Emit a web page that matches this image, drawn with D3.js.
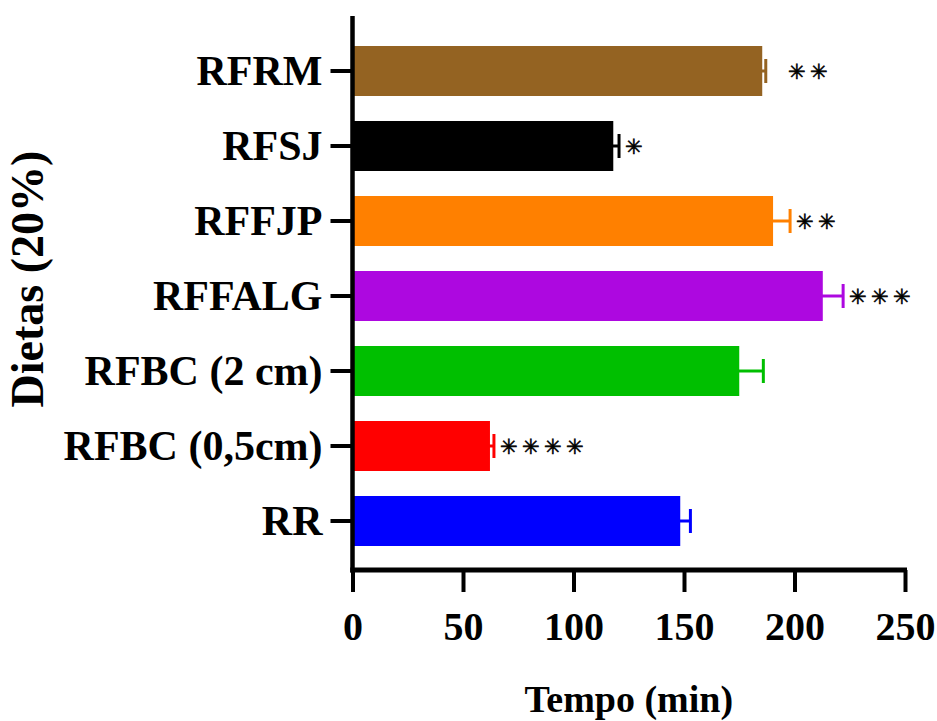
<!DOCTYPE html>
<html>
<head>
<meta charset="utf-8">
<script src="https://cdn.jsdelivr.net/npm/d3@7"></script>
<style>
  body { margin: 0; background: #fff; }
  svg { display: block; }
</style>
</head>
<body>
<div id="chart"></div>
<script>
// *** data ***
var categories = ["RFRM", "RFSJ", "RFFJP", "RFFALG", "RFBC (2 cm)", "RFBC (0,5cm)", "RR"];
var means      = [185.4, 118.0, 190.3, 212.8, 175.0, 62.2, 148.3];
var errors     = [1.6, 2.6, 7.7, 9.2, 10.9, 1.8, 4.6];
var signif     = ["✳✳", "✳", "✳✳", "✳✳✳", "", "✳✳✳✳", ""];
var colors     = ["#946322", "#000000", "#ff8000", "#ad08e0", "#00bf00", "#ff0000", "#0000ff"];
var xTicks     = [0, 50, 100, 150, 200, 250];

var W = 937, H = 721;
var serif = "'Liberation Serif', 'Times New Roman', serif";

var svg = d3.select("#chart").append("svg")
    .attr("width", W)
    .attr("height", H);

var x = d3.scaleLinear().domain([0, 250]).range([352.5, 905]);
var y = d3.scaleBand().domain(categories)
    .range([33.5, 558.5])
    .paddingInner(1 / 3)
    .paddingOuter(1 / 6);

var axisY = 570;

// *** bars ***
svg.append("g").selectAll("rect")
    .data(categories)
    .enter().append("rect")
    .attr("x", x(0))
    .attr("y", function(d) { return y(d); })
    .attr("width", function(d, i) { return x(means[i]) - x(0); })
    .attr("height", y.bandwidth())
    .attr("fill", function(d, i) { return colors[i]; });

// *** error bars (positive side only, like the original) ***
var err = svg.append("g").selectAll("g")
    .data(categories)
    .enter().append("g")
    .attr("stroke", function(d, i) { return colors[i]; })
    .attr("stroke-width", 3);

err.append("line")
    .attr("x1", function(d, i) { return x(means[i]) - 2; })
    .attr("x2", function(d, i) { return x(means[i] + errors[i]); })
    .attr("y1", function(d) { return y(d) + y.bandwidth() / 2; })
    .attr("y2", function(d) { return y(d) + y.bandwidth() / 2; });

err.append("line")
    .attr("x1", function(d, i) { return x(means[i] + errors[i]); })
    .attr("x2", function(d, i) { return x(means[i] + errors[i]); })
    .attr("y1", function(d) { return y(d) + y.bandwidth() / 2 - 12; })
    .attr("y2", function(d) { return y(d) + y.bandwidth() / 2 + 12; });

// *** significance stars ***
var starSize = 21;
svg.append("g").selectAll("text")
    .data(categories)
    .enter().append("text")
    .attr("x", function(d, i) {
        var gap = i === 0 ? 22 : 6; // RFRM stars sit further out
        return x(means[i] + errors[i]) + gap;
    })
    .attr("y", function(d) { return y(d) + y.bandwidth() / 2 + starSize * 0.36; })
    .style("font-family", "'Liberation Serif', serif")
    .style("font-size", starSize + "px")
    .style("letter-spacing", "4px")
    .attr("fill", "#000")
    .attr("stroke", "#000")
    .attr("stroke-width", 0.6)
    .text(function(d, i) { return signif[i]; });

// *** x axis ***
var gx = svg.append("g")
    .attr("transform", "translate(0," + axisY + ")")
    .call(d3.axisBottom(x).tickValues(xTicks).tickSize(22).tickSizeOuter(0).tickPadding(20));

gx.select(".domain").remove();
gx.selectAll(".tick line").attr("stroke", "#000").attr("stroke-width", 4);
gx.selectAll(".tick text")
    .style("font-family", serif)
    .style("font-weight", "bold")
    .style("font-size", "40px")
    .attr("fill", "#000");

// *** y axis ***
var gy = svg.append("g")
    .attr("transform", "translate(" + x(0) + ",0)")
    .call(d3.axisLeft(y).tickSize(22).tickPadding(8));

gy.select(".domain").remove();
gy.selectAll(".tick line").attr("stroke", "#000").attr("stroke-width", 4);
gy.selectAll(".tick text")
    .attr("dy", "0.34em")
    .style("font-family", serif)
    .style("font-weight", "bold")
    .style("font-size", "42px")
    .attr("fill", "#000");

// axis lines drawn by hand so they meet at the corner
svg.append("line")
    .attr("x1", x(0)).attr("x2", x(0))
    .attr("y1", 16).attr("y2", axisY + 2.5)
    .attr("stroke", "#000").attr("stroke-width", 4.5);

svg.append("line")
    .attr("x1", x(0) - 2.25).attr("x2", x(250) + 2)
    .attr("y1", axisY).attr("y2", axisY)
    .attr("stroke", "#000").attr("stroke-width", 5);

// *** titles ***
svg.append("text")
    .attr("x", (x(0) + x(250)) / 2)
    .attr("y", 712)
    .attr("text-anchor", "middle")
    .style("font-family", serif)
    .style("font-weight", "bold")
    .style("font-size", "38px")
    .text("Tempo (min)");

svg.append("text")
    .attr("transform", "translate(43,279) rotate(-90)")
    .attr("text-anchor", "middle")
    .style("font-family", serif)
    .style("font-weight", "bold")
    .style("font-size", "46px")
    .text("Dietas (20%)");
</script>
</body>
</html>
